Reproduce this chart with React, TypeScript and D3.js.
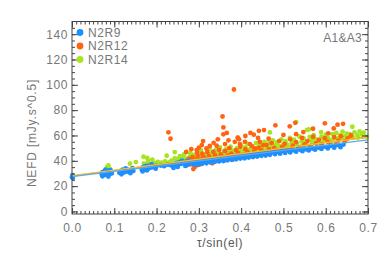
import { useEffect, useRef } from 'react';
import * as d3 from 'd3';

// N2R9 [tau/sin(el), NEFD]
const n2r9: [number, number][] = [
  [0.000, 27.0], [0.001, 28.6], [0.002, 26.4],
  [0.070, 29.5], [0.072, 31.0], [0.074, 28.8], [0.075, 30.2], [0.077, 31.8], [0.078, 29.0],
  [0.080, 30.6], [0.081, 32.0], [0.082, 29.6], [0.084, 31.2], [0.085, 28.6], [0.087, 30.4],
  [0.088, 32.4], [0.090, 29.8], [0.092, 31.0], [0.094, 30.0],
  [0.072, 27.8], [0.079, 33.0], [0.086, 27.6], [0.091, 32.6],
  [0.112, 30.5], [0.115, 32.0], [0.118, 31.0], [0.120, 33.0], [0.123, 30.8], [0.125, 32.4],
  [0.128, 31.6], [0.130, 33.2], [0.133, 31.4], [0.136, 32.6], [0.139, 31.8], [0.142, 32.8], [0.145, 32.0],
  [0.117, 29.4], [0.127, 34.0], [0.138, 30.2], [0.143, 34.2],
  [0.165, 33.0], [0.168, 35.0], [0.170, 33.8], [0.173, 35.8], [0.175, 34.2], [0.178, 36.2],
  [0.180, 33.6], [0.183, 35.2], [0.186, 34.6], [0.189, 36.4], [0.192, 35.0], [0.196, 35.8], [0.200, 36.0],
  [0.167, 31.6], [0.177, 32.4], [0.188, 37.4], [0.198, 33.8],
  [0.210, 36.2], [0.218, 35.8], [0.226, 37.0], [0.232, 36.6],
  [0.238, 36.0], [0.242, 37.5], [0.245, 36.4], [0.248, 38.4], [0.252, 37.0], [0.255, 39.0],
  [0.258, 37.6], [0.262, 38.8], [0.266, 37.8], [0.270, 39.6], [0.274, 38.2], [0.278, 40.0],
  [0.240, 34.4], [0.250, 35.2], [0.260, 40.2], [0.268, 36.0], [0.276, 37.0],
  [0.285, 38.6], [0.290, 39.8], [0.295, 38.2], [0.300, 40.2], [0.305, 39.0], [0.310, 40.6],
  [0.315, 39.2], [0.320, 41.0], [0.325, 39.8], [0.330, 41.4], [0.335, 40.4], [0.340, 41.8],
  [0.345, 40.6], [0.350, 42.2], [0.355, 41.0], [0.360, 42.6], [0.365, 41.4], [0.370, 43.0],
  [0.375, 42.0], [0.380, 43.4], [0.385, 42.2], [0.390, 43.8], [0.395, 42.8], [0.400, 44.2],
  [0.405, 43.2], [0.410, 44.6], [0.415, 43.8], [0.420, 45.0], [0.425, 44.2], [0.430, 45.4],
  [0.435, 44.6], [0.440, 45.8], [0.445, 45.0], [0.450, 46.2], [0.455, 45.4], [0.460, 46.6],
  [0.466, 45.8], [0.472, 47.0], [0.478, 46.4], [0.484, 47.4], [0.490, 46.8], [0.496, 47.8],
  [0.502, 47.2], [0.508, 48.2], [0.514, 47.6], [0.520, 48.6], [0.527, 48.0], [0.534, 49.2],
  [0.541, 48.6], [0.548, 49.6], [0.555, 49.0], [0.562, 50.2], [0.570, 49.6], [0.578, 50.6],
  [0.586, 50.2], [0.594, 51.2], [0.602, 50.8], [0.610, 51.8], [0.618, 51.4], [0.626, 52.4],
  [0.634, 52.0], [0.642, 52.8],
  [0.288, 36.8], [0.298, 37.0], [0.308, 37.6], [0.318, 38.0], [0.328, 38.6], [0.338, 39.2],
  [0.348, 39.6], [0.358, 39.8], [0.368, 40.4], [0.378, 40.8], [0.388, 41.2], [0.398, 41.8],
  [0.408, 42.0], [0.418, 42.6], [0.428, 43.0], [0.438, 43.4], [0.448, 44.0], [0.458, 44.2],
  [0.468, 44.8], [0.480, 45.2], [0.492, 45.6], [0.504, 46.2], [0.516, 46.6], [0.530, 47.2],
  [0.545, 47.6], [0.560, 48.2], [0.575, 48.8], [0.590, 49.4], [0.605, 49.8], [0.620, 50.4], [0.635, 50.8],
];

// N2R12
const n2r12: [number, number][] = [
  [0.228, 62.5], [0.233, 57.4], [0.356, 75.0], [0.358, 66.4], [0.366, 62.0], [0.358, 60.9],
  [0.383, 96.3], [0.422, 62.0], [0.442, 63.7], [0.430, 60.6], [0.392, 58.2], [0.481, 68.0],
  [0.515, 67.2], [0.528, 70.0], [0.598, 69.6], [0.628, 68.5], [0.641, 69.2], [0.619, 65.6],
  [0.570, 65.3], [0.454, 64.3], [0.547, 62.7], [0.606, 61.7],
  [0.307, 52.4], [0.295, 48.5], [0.318, 49.8], [0.326, 51.7], [0.342, 51.9], [0.362, 53.2],
  [0.385, 55.0], [0.397, 53.2], [0.409, 55.0], [0.421, 53.2], [0.444, 55.0], [0.452, 52.4], [0.433, 49.8],
  [0.287, 33.5], [0.292, 35.5], [0.300, 36.8], [0.296, 46.6], [0.300, 50.4],
  [0.280, 40.5], [0.285, 42.8], [0.290, 39.6], [0.297, 44.0], [0.302, 41.2], [0.308, 45.6],
  [0.312, 42.4], [0.316, 40.0], [0.320, 46.8], [0.324, 43.6], [0.330, 41.4], [0.334, 47.2],
  [0.338, 44.4], [0.343, 42.0], [0.348, 48.6], [0.352, 45.0], [0.356, 43.0], [0.362, 47.6],
  [0.368, 44.2], [0.372, 50.0], [0.377, 45.6], [0.382, 43.6], [0.388, 48.4], [0.393, 46.0],
  [0.398, 51.0], [0.404, 44.6], [0.410, 49.2], [0.415, 47.0], [0.420, 45.4], [0.426, 51.4],
  [0.431, 47.8], [0.437, 46.0], [0.442, 50.4], [0.448, 48.2], [0.455, 46.8], [0.460, 52.4],
  [0.466, 49.0], [0.472, 54.0], [0.478, 50.2], [0.485, 47.8], [0.490, 55.6], [0.497, 51.0],
  [0.503, 53.4], [0.510, 49.2], [0.516, 57.0], [0.522, 52.0], [0.530, 54.8], [0.537, 50.6],
  [0.544, 58.0], [0.550, 53.0], [0.557, 55.6], [0.564, 51.8], [0.570, 59.0], [0.577, 54.0],
  [0.584, 56.6], [0.590, 53.0], [0.598, 57.8], [0.605, 55.0], [0.612, 52.4], [0.620, 58.6],
  [0.624, 53.0], [0.630, 56.0], [0.636, 59.4], [0.645, 55.2], [0.652, 57.6], [0.660, 60.0],
  [0.262, 38.6], [0.270, 36.2], [0.276, 41.6], [0.283, 37.2], [0.294, 41.0], [0.305, 37.4],
  [0.310, 43.4], [0.318, 38.6], [0.327, 40.6], [0.332, 38.0], [0.340, 43.0], [0.346, 39.8],
  [0.353, 41.6], [0.360, 40.2], [0.370, 42.0], [0.380, 41.0], [0.390, 44.2], [0.400, 42.6],
  [0.412, 43.4], [0.424, 44.4], [0.436, 44.2], [0.450, 45.4], [0.463, 46.2], [0.476, 47.2],
  [0.490, 48.2], [0.505, 48.8], [0.520, 50.2], [0.535, 49.4], [0.270, 47.0], [0.282, 49.2],
  [0.310, 55.6], [0.335, 54.2], [0.345, 57.0], [0.370, 56.2], [0.395, 57.0], [0.410, 59.6],
  [0.440, 58.0], [0.465, 57.4], [0.500, 60.4], [0.530, 61.0],
];

// N2R14
const n2r14: [number, number][] = [
  [0.083, 34.9], [0.086, 36.4], [0.090, 33.6], [0.137, 37.7], [0.151, 39.0], [0.169, 43.2],
  [0.178, 42.2], [0.170, 38.0], [0.174, 36.5], [0.180, 39.8], [0.185, 37.2], [0.190, 41.0],
  [0.194, 38.4], [0.198, 36.6], [0.203, 39.2], [0.207, 37.0], [0.212, 38.6], [0.216, 36.8],
  [0.220, 39.6], [0.224, 44.0], [0.226, 37.4], [0.230, 38.8], [0.235, 40.2], [0.238, 37.6],
  [0.243, 46.9], [0.243, 41.9], [0.247, 39.0], [0.250, 41.4], [0.254, 38.4], [0.258, 40.6],
  [0.262, 42.4], [0.266, 39.6], [0.270, 41.8], [0.274, 40.4], [0.278, 43.0], [0.282, 41.0], [0.286, 44.6],
  [0.290, 43.4], [0.295, 46.0], [0.300, 44.2], [0.305, 48.2], [0.310, 45.0], [0.315, 43.2],
  [0.320, 47.0], [0.325, 49.6], [0.330, 45.8], [0.335, 44.0], [0.340, 48.4], [0.345, 46.2],
  [0.350, 50.6], [0.355, 45.4], [0.360, 47.8], [0.365, 49.4], [0.370, 46.4], [0.375, 51.2],
  [0.380, 48.0], [0.385, 46.8], [0.390, 50.0], [0.392, 58.2], [0.395, 48.6], [0.400, 52.2],
  [0.405, 47.8], [0.410, 50.6], [0.415, 53.4], [0.420, 49.0], [0.425, 51.6], [0.430, 48.4],
  [0.435, 54.0], [0.440, 50.4], [0.445, 52.6], [0.450, 49.8], [0.455, 55.0], [0.460, 51.4],
  [0.465, 53.8], [0.468, 62.4], [0.470, 50.6], [0.475, 56.2], [0.480, 52.4], [0.485, 54.6],
  [0.490, 51.6], [0.495, 57.0], [0.500, 53.2], [0.505, 55.4], [0.510, 52.6], [0.515, 58.0],
  [0.520, 54.4], [0.525, 56.8], [0.530, 70.6], [0.532, 53.6], [0.538, 59.0], [0.543, 55.2],
  [0.548, 57.6], [0.553, 54.4], [0.556, 64.5], [0.560, 64.8], [0.562, 58.8], [0.567, 56.0],
  [0.572, 60.2], [0.577, 57.2], [0.582, 55.4], [0.589, 62.7], [0.590, 59.0], [0.595, 56.6],
  [0.600, 60.6], [0.605, 58.0], [0.610, 56.4], [0.616, 61.1], [0.620, 58.8], [0.625, 62.0],
  [0.630, 57.6], [0.634, 60.0], [0.640, 63.0], [0.645, 59.2], [0.650, 61.4], [0.657, 61.1],
  [0.660, 58.8], [0.663, 66.9], [0.668, 62.4], [0.675, 60.0], [0.680, 63.2], [0.686, 61.0],
  [0.690, 62.2], [0.697, 59.0],
  [0.255, 43.6], [0.265, 45.0], [0.280, 46.0], [0.292, 40.8], [0.303, 42.0], [0.318, 44.4],
  [0.327, 42.6], [0.338, 45.6], [0.348, 43.4], [0.358, 44.6], [0.368, 43.8], [0.378, 45.6],
  [0.388, 44.8], [0.398, 46.4], [0.408, 45.4], [0.418, 47.0], [0.428, 46.2], [0.438, 47.8],
  [0.448, 47.2], [0.458, 48.6], [0.470, 48.0], [0.482, 49.4], [0.494, 49.0], [0.506, 50.4],
  [0.518, 50.2], [0.530, 51.6], [0.542, 51.4], [0.555, 52.4], [0.568, 53.2], [0.580, 53.6],
  [0.592, 54.4], [0.604, 55.4], [0.616, 55.8], [0.628, 56.6], [0.640, 57.0], [0.652, 57.6],
  [0.664, 58.4], [0.676, 58.2], [0.688, 59.0],
];

// linear fits: [intercept, slope]
const fitN2R9 = [27.5, 41.5];
const fitN2R12 = [28.0, 44.0];
const fitN2R14 = [28.3, 43.5];

const seriesNames = ['N2R9', 'N2R12', 'N2R14'];
const seriesColors = ['#1e8fff', '#ff6412', '#a6e41e'];
const xTicks = [0, 0.1, 0.2, 0.3, 0.4, 0.5, 0.6, 0.7];
const yTicks = [0, 20, 40, 60, 80, 100, 120, 140];

const W = 390;
const H = 260;
const FONT = '"Liberation Sans", Arial, sans-serif';

export default function App() {
  const svgRef = useRef<SVGSVGElement>(null);

  useEffect(() => {
    document.body.style.margin = '0';
    if (!svgRef.current) return;
    const svg = d3.select(svgRef.current);
    svg.selectAll('*').remove();

    const left = 72, right = 368, top = 21.5, bottom = 214;
    const x = d3.scaleLinear().domain([0, 0.7]).range([left, right]);
    const y = d3.scaleLinear().domain([-2, 150]).range([bottom, top]);

    const axisColor = '#444';
    const textColor = '#777';

    // points: green, orange, then blue on top
    const layers: { data: [number, number][]; color: string }[] = [
      { data: n2r14, color: seriesColors[2] },
      { data: n2r12, color: seriesColors[1] },
      { data: n2r9, color: seriesColors[0] },
    ];
    layers.forEach(l => {
      svg.append('g')
        .selectAll('circle')
        .data(l.data)
        .enter()
        .append('circle')
        .attr('cx', d => x(d[0]))
        .attr('cy', d => y(d[1]))
        .attr('r', 2.4)
        .attr('fill', l.color);
    });

    // fit lines
    const fits = [
      { f: fitN2R12, color: seriesColors[1] },
      { f: fitN2R14, color: '#f2c230' },
      { f: fitN2R9, color: '#5aaaf0' },
    ];
    fits.forEach(({ f, color }) => {
      const line = d3.line<number>()
        .x(t => x(t))
        .y(t => y(f[0] + f[1] * t));
      svg.append('path')
        .attr('d', line([0, 0.7]))
        .attr('stroke', color)
        .attr('stroke-width', 1.2)
        .attr('fill', 'none');
    });

    // axes with inward ticks
    const styleAxis = (g: d3.Selection<SVGGElement, unknown, null, undefined>) => {
      g.select('.domain').remove();
      g.selectAll('line').attr('stroke', axisColor);
      g.selectAll('text')
        .attr('fill', textColor)
        .style('font-family', FONT)
        .style('font-size', '12px')
        .style('letter-spacing', '0.6px');
    };

    const xMinor = d3.range(0, 0.7001, 0.01);
    const yMinor = d3.range(0, 150, 5);

    svg.append('g').attr('transform', `translate(0,${bottom})`)
      .call(d3.axisBottom(x).tickValues(xMinor).tickSize(-3).tickFormat(() => ''))
      .call(styleAxis);
    svg.append('g').attr('transform', `translate(0,${bottom})`)
      .call(d3.axisBottom(x).tickValues(xTicks).tickSize(-6).tickPadding(9).tickFormat(d3.format('.1f')))
      .call(styleAxis);
    svg.append('g').attr('transform', `translate(0,${top})`)
      .call(d3.axisTop(x).tickValues(xMinor).tickSize(-3).tickFormat(() => ''))
      .call(styleAxis);
    svg.append('g').attr('transform', `translate(0,${top})`)
      .call(d3.axisTop(x).tickValues(xTicks).tickSize(-6).tickFormat(() => ''))
      .call(styleAxis);

    svg.append('g').attr('transform', `translate(${left},0)`)
      .call(d3.axisLeft(y).tickValues(yMinor).tickSize(-3).tickFormat(() => ''))
      .call(styleAxis);
    svg.append('g').attr('transform', `translate(${left},0)`)
      .call(d3.axisLeft(y).tickValues(yTicks).tickSize(-6).tickPadding(4).tickFormat(d3.format('d')))
      .call(styleAxis);
    svg.append('g').attr('transform', `translate(${right},0)`)
      .call(d3.axisRight(y).tickValues(yMinor).tickSize(-3).tickFormat(() => ''))
      .call(styleAxis);
    svg.append('g').attr('transform', `translate(${right},0)`)
      .call(d3.axisRight(y).tickValues(yTicks).tickSize(-6).tickFormat(() => ''))
      .call(styleAxis);

    svg.append('rect')
      .attr('x', left).attr('y', top)
      .attr('width', right - left).attr('height', bottom - top)
      .attr('fill', 'none').attr('stroke', axisColor).attr('stroke-width', 1);

    // axis titles
    svg.append('text')
      .attr('transform', `translate(36,133) rotate(-90)`)
      .attr('text-anchor', 'middle')
      .attr('fill', textColor)
      .style('font-family', FONT).style('font-size', '12px').style('letter-spacing', '0.8px')
      .text('NEFD [mJy.s^0.5]');
    svg.append('text')
      .attr('x', 220).attr('y', 247)
      .attr('text-anchor', 'middle')
      .attr('fill', '#555')
      .style('font-family', FONT).style('font-size', '12px').style('letter-spacing', '0.6px')
      .text('τ/sin(el)');

    // legend
    const legend = svg.append('g');
    seriesNames.forEach((name, i) => {
      const ly = 32.5 + i * 13.5;
      legend.append('circle').attr('cx', 80).attr('cy', ly).attr('r', 3.4).attr('fill', seriesColors[i]);
      legend.append('text')
        .attr('x', 88).attr('y', ly + 4)
        .attr('fill', textColor)
        .style('font-family', FONT).style('font-size', '12px').style('letter-spacing', '0.6px')
        .text(name);
    });

    svg.append('text')
      .attr('x', 362).attr('y', 42)
      .attr('text-anchor', 'end')
      .attr('fill', textColor)
      .style('font-family', FONT).style('font-size', '12px').style('letter-spacing', '0.3px')
      .text('A1&A3');
  }, []);

  return <svg ref={svgRef} width={W} height={H} style={{ display: 'block', background: '#fff' }} />;
}
